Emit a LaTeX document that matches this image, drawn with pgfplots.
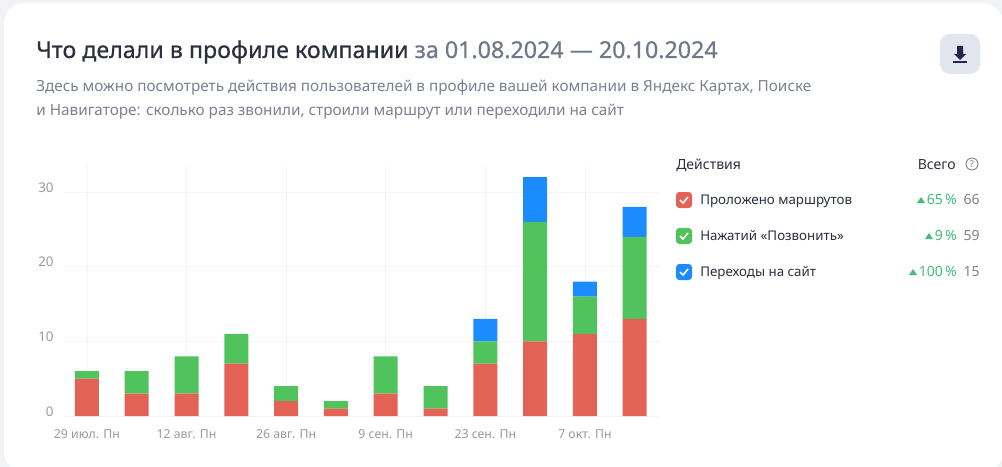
\documentclass[border=0pt]{standalone}
\usepackage{pgfplots}
\pgfplotsset{compat=1.18}
\usepackage{fontspec}
\setmainfont{Noto Sans}
\newfontfamily\titlefont{Noto Sans}[FakeBold=0.5]
\definecolor{bgout}{HTML}{F1F3F7}
\definecolor{titlec}{HTML}{2B2F3E}
\definecolor{datec}{HTML}{6F788A}
\definecolor{subc}{HTML}{7A8191}
\definecolor{tickc}{HTML}{9A9A9A}
\definecolor{gridc}{HTML}{F3F4F7}
\definecolor{redc}{HTML}{E36256}
\definecolor{greenc}{HTML}{50C35C}
\definecolor{bluec}{HTML}{1A8CFF}
\definecolor{upc}{HTML}{45BC7D}
\definecolor{numc}{HTML}{7F8288}
\definecolor{btn}{HTML}{E4E6EF}
\definecolor{icon}{HTML}{23264A}
\pgfplotstableread{
x r g b
0 5 1 0
1 3 3 0
2 3 5 0
3 7 4 0
4 2 2 0
5 1 1 0
6 3 5 0
7 1 3 0
8 7 3 3
9 10 16 6
10 11 5 2
11 13 11 4
}\datatable
\begin{document}
\begin{tikzpicture}[x=0.75pt,y=-0.75pt]
\path[use as bounding box] (0,0) rectangle (1002,467);
\fill[bgout] (0,0) rectangle (1002,467);
\fill[white,rounded corners=15pt] (4,3) rectangle (1003,472);
\begin{axis}[
 at={(63pt*0.75,416pt*-0.75)},anchor=south west,
 scale only axis,
 x=37.35pt,y=5.6pt,
 xmin=-0.48,xmax=11.5,ymin=0,ymax=33.6,
 ybar stacked,bar width=18pt,
 axis line style={draw=none},
 tick style={draw=none},
 grid style={gridc,line width=0.6pt},
 xmajorgrids,ymajorgrids,
 xtick={0,2,4,6,8,10},
 xticklabels={29 июл. Пн,12 авг. Пн,26 авг. Пн,9 сен. Пн,23 сен. Пн,7 окт. Пн},
 ytick={0,10,20,30},
 /pgf/number format/assume math mode=true,
 xticklabel style={font=\fontsize{9.2pt}{10pt}\selectfont,text=tickc,yshift=-6.5pt},
 yticklabel style={font=\fontsize{10pt}{10pt}\selectfont,text=tickc,yshift=3.4pt,xshift=-3.5pt},
]
\addplot[fill=redc,draw=none] table[x=x,y=r] {\datatable};
\addplot[fill=greenc,draw=none] table[x=x,y=g] {\datatable};
\addplot[fill=bluec,draw=none] table[x=x,y=b] {\datatable};
\end{axis}
\node[anchor=base west,inner sep=0,font=\fontsize{17.42pt}{18pt}\selectfont\titlefont] at (36,58) {\textcolor{titlec}{Что делали в профиле компании} \textcolor{datec}{за 01.08.2024 — 20.10.2024}};
\node[anchor=base west,inner sep=0,font=\fontsize{11.48pt}{14pt}\selectfont,text=subc] at (36,91) {Здесь можно посмотреть действия пользователей в профиле вашей компании в Яндекс Картах, Поиске};
\node[anchor=base west,inner sep=0,font=\fontsize{11.48pt}{14pt}\selectfont,text=subc] at (36,115) {и Навигаторе: сколько раз звонили, строили маршрут или переходили на сайт};
\fill[btn,rounded corners=7.5pt] (940,34) rectangle (980,74);
\fill[icon] (957,46) rectangle (963,54) -- (966,54) -- (960,60) -- (954,54) -- (957,54) -- cycle;
\fill[icon] (953,61) rectangle (967,63);
\node[anchor=base west,inner sep=0,font=\fontsize{10.5pt}{12pt}\selectfont,text=titlec] at (676,169) {Действия};
\node[anchor=base east,inner sep=0,font=\fontsize{10.5pt}{12pt}\selectfont,text=titlec] at (956,169) {Всего};
\draw[numc,line width=0.7pt] (972,164) circle[radius=6];
\node[font=\fontsize{7pt}{8pt}\selectfont,text=numc,inner sep=0] at (972,164) {?};
\foreach \yy/\cc/\lab/\pct/\tot/\tx in {200/redc/Проложено маршрутов/65\,\%/66/917,236/greenc/Нажатий «Позвонить»/9\,\%/59/925,272/bluec/Переходы на сайт/100\,\%/15/909}{
 \fill[\cc,rounded corners=2.5pt] (676,\yy-8) rectangle (692,\yy+8);
 \draw[white,line width=1.2pt] (680,\yy) -- (683,\yy+3) -- (688,\yy-3);
 \node[anchor=base west,inner sep=0,font=\fontsize{10pt}{12pt}\selectfont,text=titlec] at (700,\yy+4) {\lab};
 \node[anchor=base east,inner sep=0,font=\fontsize{10.5pt}{12pt}\selectfont,text=upc] at (957,\yy+4.5) {\pct};
 \node[anchor=base east,inner sep=0,font=\fontsize{10.5pt}{12pt}\selectfont,text=numc] at (980,\yy+4.5) {\tot};
 \fill[upc] (\tx,\yy+3) -- (\tx+8,\yy+3) -- (\tx+4,\yy-3) -- cycle;
}
\end{tikzpicture}
\end{document}
